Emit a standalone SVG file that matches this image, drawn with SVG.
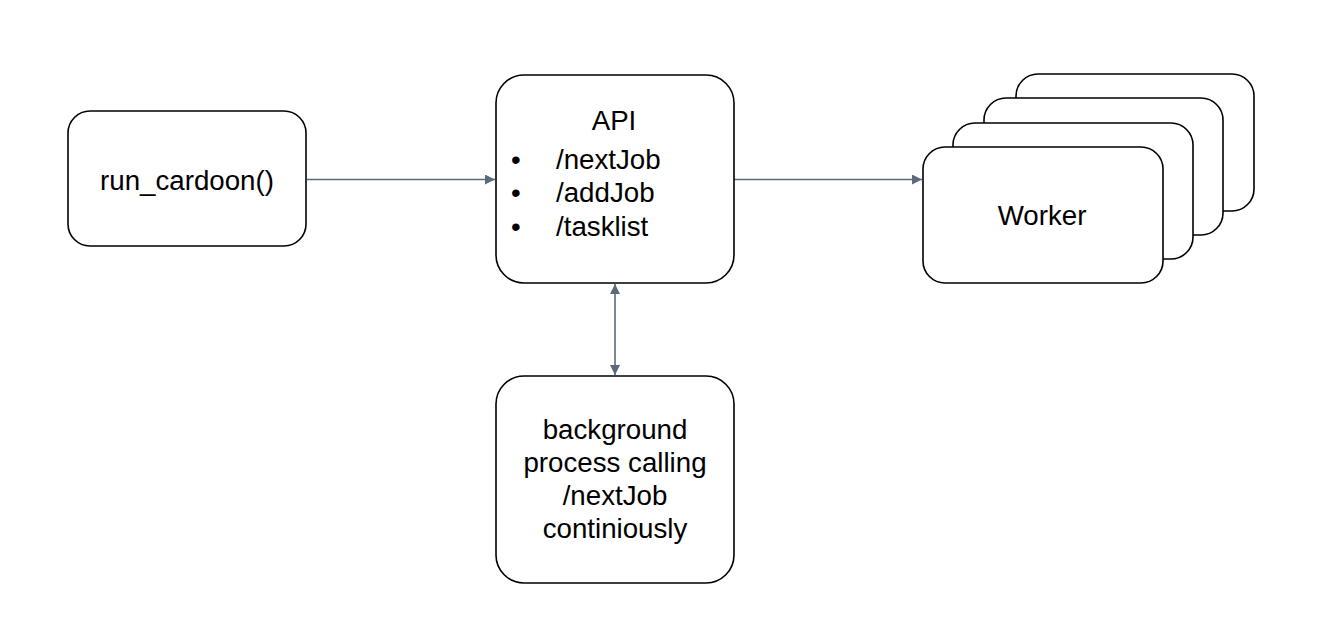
<svg xmlns="http://www.w3.org/2000/svg" width="1331" height="640" viewBox="0 0 1331 640">
<style>
.box{fill:#fff;stroke:#000;stroke-width:1.6}
.t{font-family:"Liberation Sans",Arial,sans-serif;font-size:27.7px;fill:#000}
.c{text-anchor:middle}
.edge{stroke:#5b6a7a;stroke-width:1.6;fill:none}
</style>
<defs>
<marker id="ah" viewBox="0 0 10 10" refX="10" refY="5" markerWidth="10" markerHeight="10" markerUnits="userSpaceOnUse" orient="auto-start-reverse">
<path d="M0,0 L10,5 L0,10 Z" fill="#5b6a7a"/>
</marker>
</defs>
<rect width="1331" height="640" fill="#fff"/>
<g id="connectors">
<line class="edge" x1="307" y1="179.5" x2="495" y2="179.5" marker-end="url(#ah)"/>
<line class="edge" x1="734" y1="179.5" x2="922" y2="179.5" marker-end="url(#ah)"/>
<line class="edge" x1="615" y1="284" x2="615" y2="375" marker-start="url(#ah)" marker-end="url(#ah)"/>
</g>
<g id="run_cardoon">
<rect class="box" x="68" y="111" width="238" height="135" rx="22"/>
<text class="t c" x="187" y="190">run_cardoon()</text>
</g>
<g id="api">
<rect class="box" x="496" y="75" width="238" height="208" rx="28"/>
<text class="t c" x="614" y="130">API</text>
<text class="t" x="511" y="169">•</text>
<text class="t" x="556" y="169">/nextJob</text>
<text class="t" x="511" y="202">•</text>
<text class="t" x="556" y="202">/addJob</text>
<text class="t" x="511" y="236">•</text>
<text class="t" x="556" y="236">/tasklist</text>
</g>
<g id="worker">
<rect class="box" x="1016" y="74" width="238" height="137" rx="22"/>
<rect class="box" x="984" y="98" width="239" height="137" rx="22"/>
<rect class="box" x="953" y="123" width="240" height="136" rx="22"/>
<rect class="box" x="923" y="147" width="240" height="136" rx="22"/>
<text class="t c" x="1042" y="225">Worker</text>
</g>
<g id="background">
<rect class="box" x="496" y="376" width="238" height="207" rx="28"/>
<text class="t c" x="615" y="439">background</text>
<text class="t c" x="615" y="472">process calling</text>
<text class="t c" x="615" y="505">/nextJob</text>
<text class="t c" x="615" y="538">continiously</text>
</g>
</svg>
